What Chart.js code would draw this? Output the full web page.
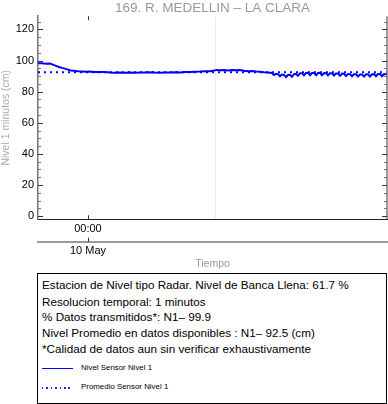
<!DOCTYPE html>
<html>
<head>
<meta charset="utf-8">
<script src="https://cdn.jsdelivr.net/npm/chart.js@4.4.1/dist/chart.umd.min.js"></script>
<style>
  html, body { margin: 0; padding: 0; background: #fff; }
  body { width: 388px; height: 404px; position: relative; overflow: hidden; font-family: "Liberation Sans", Arial, sans-serif; }
  #c { position: absolute; left: 0; top: 0; }
  #box { position: absolute; left: 37px; top: 273px; width: 350px; height: 131px; box-sizing: border-box; border: 1px solid #000; }
  .ln { position: absolute; left: 4px; font-size: 11.7px; color: #000; white-space: nowrap; line-height: 14px; }
  .lg { position: absolute; left: 4px; height: 14px; }
  .sw { position: absolute; left: 0; width: 31px; height: 1px; top: 7px; }
  .lt { position: absolute; left: 39px; font-size: 7.9px; line-height: 14px; white-space: nowrap; color: #000; }
</style>
</head>
<body>
<canvas id="c" width="388" height="270"></canvas>
<div id="box"></div>
<script>
// ---- data (minutes relative to 10 May 00:00, level in cm) ----
const times = [
  -281, -259, -236, -214, -197, -180, -163, -146, -129, -113, -96, -79, -56, -34, -11,
  11, 39, 68, 96, 124, 152, 180, 208, 236, 264, 293, 321, 349, 377, 405, 433, 461, 489,
  518, 546, 574, 602, 630, 658, 686, 709, 726, 743, 765, 788, 810, 833, 855, 878, 900,
  923, 945, 968, 990, 1013,
  1024, 1035, 1046, 1058, 1069, 1080, 1091, 1103, 1114, 1125, 1136, 1148, 1159, 1170, 1181,
  1193, 1204, 1215, 1226, 1238, 1249, 1260, 1271, 1283, 1294, 1305, 1316, 1328, 1339, 1350,
  1361, 1373, 1384, 1395, 1406, 1418, 1429, 1440, 1451, 1463, 1474, 1485, 1496, 1508, 1519,
  1530, 1541, 1553, 1564, 1575, 1586, 1598, 1609, 1620, 1631, 1643, 1654, 1665, 1676, 1682
];
const nivel1 = [
  98.2, 98.3, 98.0, 98.1, 97.4, 96.6, 95.9, 95.3, 94.8, 94.2, 93.6, 93.4, 93.1, 93.0, 92.8,
  92.9, 92.7, 92.6, 92.7, 92.4, 92.2, 92.3, 92.1, 92.3, 92.2, 92.4, 92.3, 92.5, 92.3, 92.2, 92.4, 92.3, 92.5,
  92.4, 92.6, 92.6, 92.8, 92.9, 93.1, 93.2, 93.6, 94.0, 93.7, 93.9, 93.6, 93.9, 93.7, 94.0, 93.5, 93.2,
  93.3, 92.9, 92.8, 92.5, 92.3,
  92.2, 92.0, 90.7, 91.5, 91.3, 89.9, 91.0, 90.8, 89.4, 90.7, 90.9, 89.6, 91.3, 91.5, 90.2,
  91.8, 91.9, 90.5, 92.0, 92.1, 90.6, 92.0, 92.1, 90.6, 92.0, 92.1, 90.6, 92.0, 91.9, 90.5,
  91.8, 91.8, 90.4, 91.7, 91.7, 90.2, 91.6, 91.5, 90.1, 91.4, 91.3, 89.9, 91.2, 91.2, 89.8,
  91.1, 91.1, 89.7, 91.2, 91.2, 89.8, 91.2, 91.3, 89.9, 91.3, 91.3, 89.9, 91.3, 91.2, 91.2
];
const promedio = 92.5;
const timeRange = [-281, 1682];
const yRange = [-2, 128.5];
const yMajorTicks = [0, 20, 40, 60, 80, 100, 120];
const xHourTicks = [0, 720];
const xHourLabels = ['00:00', ''];
const xDayTicks = [0];
const xDayLabels = ['10 May'];
const title = '169. R. MEDELLIN \u2013 LA CLARA';
const yTitle = 'Nivel 1 minutos (cm)';
const xTitle = 'Tiempo';
const infoLines = [
  'Estacion de Nivel tipo Radar. Nivel de Banca Llena: 61.7 %',
  'Resolucion temporal: 1 minutos',
  '% Datos transmitidos*: N1\u2013 99.9',
  'Nivel Promedio en datos disponibles : N1\u2013 92.5 (cm)',
  '*Calidad de datos aun sin verificar exhaustivamente'
];
const seriesNames = ['Nivel Sensor Nivel 1', 'Promedio Sensor Nivel 1'];

// ---- info box (HTML text) ----
const box = document.getElementById('box');
const lineTops = [4, 20.7, 36.3, 52.3, 68];
infoLines.forEach((t, i) => {
  const d = document.createElement('div');
  d.className = 'ln'; d.style.top = lineTops[i] + 'px'; d.textContent = t;
  box.appendChild(d);
});
const legTops = [86.7, 106];
seriesNames.forEach((t, i) => {
  const g = document.createElement('div');
  g.className = 'lg'; g.style.top = legTops[i] + 'px';
  const s = document.createElement('div'); s.className = 'sw';
  if (i === 0) s.style.background = '#0000ff';
  else { s.style.height = '1.5px'; s.style.backgroundImage = 'repeating-linear-gradient(to right, #1a1aff 0 1.5px, transparent 1.5px 4.4px)'; }
  const l = document.createElement('div'); l.className = 'lt'; l.textContent = t;
  g.appendChild(s); g.appendChild(l); box.appendChild(g);
});

// ---- frame / inward ticks drawn through the scales ----
const frameTicks = {
  id: 'frameTicks',
  afterDraw(chart) {
    const { ctx, chartArea: a, scales } = chart;
    const y = scales.y, x = scales.x, x2 = scales.x2;
    ctx.save();
    ctx.lineWidth = 1.5;
    ctx.strokeStyle = '#777';
    ctx.beginPath();
    ctx.moveTo(a.right, a.top); ctx.lineTo(a.right, a.bottom);
    ctx.stroke();
    ctx.lineWidth = 1;
    for (let v = 0; v <= yRange[1]; v += 5) {
      const py = Math.round(y.getPixelForValue(v)) + 0.5;
      const major = v % 20 === 0;
      const len = major ? 5 : 3;
      ctx.strokeStyle = major ? '#333' : '#777';
      ctx.beginPath();
      ctx.moveTo(a.left, py); ctx.lineTo(a.left + len, py);
      ctx.moveTo(a.right, py); ctx.lineTo(a.right - len, py);
      ctx.stroke();
    }
    ctx.strokeStyle = '#333';
    xDayTicks.forEach(v => {
      const px = Math.round(x.getPixelForValue(v)) + 0.5;
      ctx.beginPath();
      ctx.moveTo(px, a.bottom); ctx.lineTo(px, a.bottom - 4);
      ctx.moveTo(px, a.top); ctx.lineTo(px, a.top + 4);
      ctx.moveTo(px, x2.top); ctx.lineTo(px, x2.top - 4);
      ctx.stroke();
    });
    ctx.restore();
  }
};

const chart = new Chart(document.getElementById('c'), {
  type: 'line',
  data: {
    labels: times,
    datasets: [
      {
        label: seriesNames[0],
        data: nivel1,
        borderColor: '#0000ff',
        borderWidth: 2,
        pointRadius: 0,
        tension: 0,
        fill: false
      },
      {
        label: seriesNames[1],
        data: times.map(() => promedio),
        borderColor: '#0000ff',
        borderWidth: 2,
        borderDash: [2, 4],
        pointRadius: 0,
        tension: 0,
        fill: false
      }
    ]
  },
  options: {
    responsive: false,
    animation: false,
    devicePixelRatio: 1,
    layout: { padding: { left: 0, right: 1, top: 0, bottom: 0 } },
    plugins: {
      legend: { display: false },
      tooltip: { enabled: false },
      title: {
        display: true,
        text: title,
        fullSize: false,
        color: '#999',
        font: { family: 'Liberation Sans', size: 13.5, weight: 'normal' },
        padding: { top: 0, bottom: 0 }
      }
    },
    scales: {
      x: {
        type: 'linear',
        position: 'bottom',
        min: timeRange[0], max: timeRange[1],
        afterBuildTicks: s => { s.ticks = xHourTicks.map(v => ({ value: v })); },
        afterFit: s => { s.height = 22.4; },
        ticks: {
          autoSkip: false, maxRotation: 0, padding: 3, color: '#000',
          font: { family: 'Liberation Sans', size: 11 },
          callback: (v) => xHourLabels[xHourTicks.indexOf(v)]
        },
        grid: {
          drawTicks: false,
          color: c => (c.tick && c.tick.value === 720) ? '#eeeeee' : 'rgba(0,0,0,0)'
        },
        border: { display: true, color: '#222', width: 1 }
      },
      x2: {
        type: 'linear',
        position: 'bottom',
        min: timeRange[0], max: timeRange[1],
        afterBuildTicks: s => { s.ticks = xDayTicks.map(v => ({ value: v })); },
        afterFit: s => { s.height = 28.3; },
        ticks: {
          autoSkip: false, maxRotation: 0, padding: 3, color: '#000',
          font: { family: 'Liberation Sans', size: 11 },
          callback: (v) => xDayLabels[xDayTicks.indexOf(v)]
        },
        grid: { display: false, drawTicks: false },
        border: { display: true, color: '#999', width: 2 },
        title: {
          display: true, text: xTitle, color: '#999',
          font: { family: 'Liberation Sans', size: 10.5 },
          padding: { top: 0, bottom: 0 }
        }
      },
      y: {
        type: 'linear',
        position: 'left',
        min: yRange[0], max: yRange[1],
        afterBuildTicks: s => { s.ticks = yMajorTicks.map(v => ({ value: v })); },
        afterFit: s => { s.width = 38; },
        ticks: {
          padding: 4, color: '#000',
          font: { family: 'Liberation Sans', size: 11 },
          callback: v => String(v)
        },
        grid: { display: false, drawTicks: false },
        border: { display: true, color: '#777', width: 1.5 },
        title: {
          display: true, text: yTitle, color: '#aaa',
          font: { family: 'Liberation Sans', size: 10.5 },
          padding: { top: 0, bottom: 0 }
        }
      }
    }
  },
  plugins: [frameTicks]
});
</script>
</body>
</html>
